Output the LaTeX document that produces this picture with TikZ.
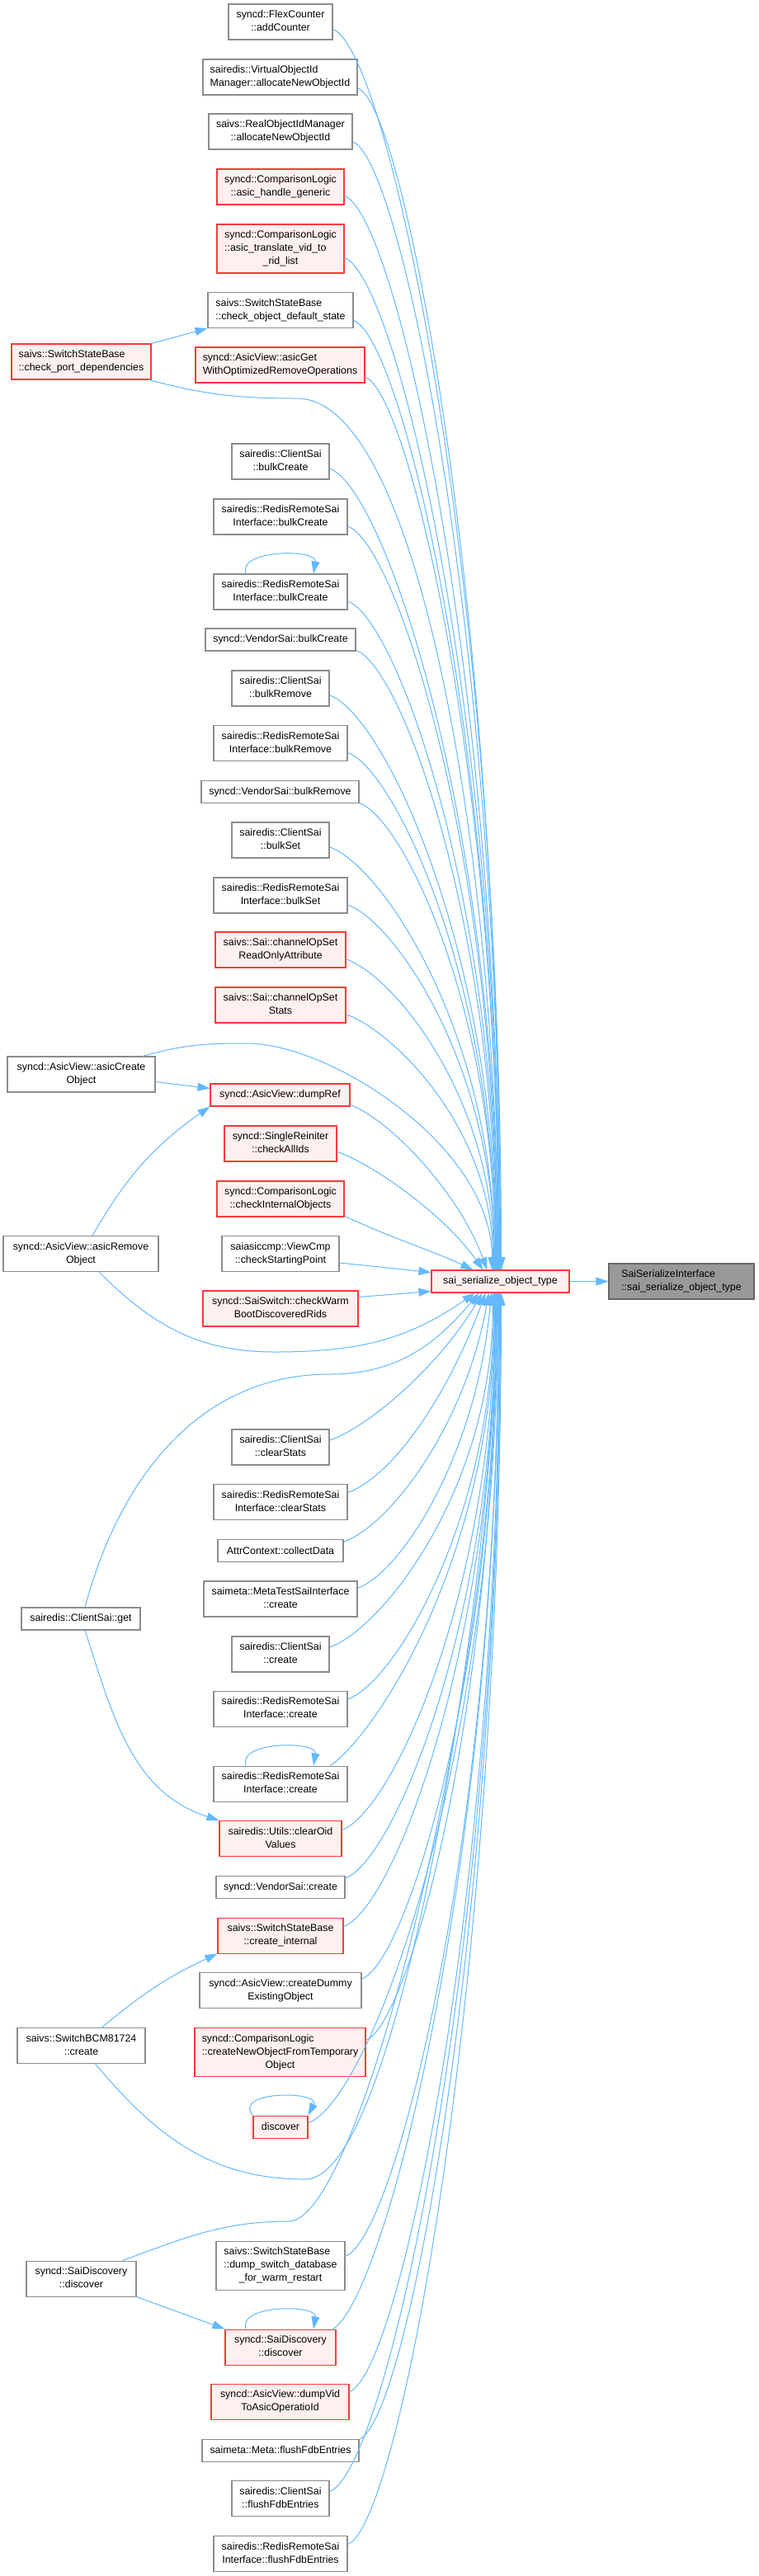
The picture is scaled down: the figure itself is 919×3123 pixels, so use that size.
\documentclass[tikz,border=0pt]{standalone}
\usepackage{fontspec}
\setmainfont{Liberation Sans}
\usetikzlibrary{arrows.meta,calc}
\definecolor{edgeblue}{HTML}{63B8FF}
\definecolor{nodered}{HTML}{FF3838}
\definecolor{nodepink}{HTML}{FFF0F0}
\definecolor{nodegray}{HTML}{8C8C8C}
\definecolor{rootfill}{HTML}{999999}
\definecolor{rootdraw}{HTML}{666666}
\newcommand\twol[2]{\begin{tabular}{@{}l@{}}#1\\\multicolumn{1}{@{}c@{}}{#2}\end{tabular}}
\newcommand\eup[4]{\draw[e] (#1.-8) .. controls +(-20:#3pt) and +(90:#4pt) .. ([xshift=#2pt]main.north west);}
\newcommand\edn[4]{\draw[e] (#1.8) .. controls +(20:#3pt) and +(-90:#4pt) .. ([xshift=#2pt]main.south west);}
\tikzset{
  base/.style={rectangle, draw, line width=1.05pt, inner sep=0pt, text=black,
    font=\fontsize{12.4}{16}\selectfont, align=center},
  wn/.style={base, draw=nodegray, fill=white},
  rn/.style={base, draw=nodered, fill=nodepink},
  gn/.style={base, draw=rootdraw, fill=rootfill},
  h1/.style={minimum height=27pt},
  h2/.style={minimum height=43pt},
  h3/.style={minimum height=59pt},
  e/.style={draw=edgeblue, line width=1pt, -{Triangle[length=15pt,width=10pt]}}
}
\begin{document}
\begin{tikzpicture}[x=1pt,y=1pt]
\fill[white] (0,0) rectangle (919,-3123);
\useasboundingbox (0,0) rectangle (919,-3123);

% middle column
\node[wn,h2,minimum width=126pt] (n1) at (340,-26.5) {\twol{syncd::FlexCounter}{::addCounter}};
\node[wn,h2,minimum width=187pt] (n2) at (339.5,-93.5) {\twol{sairedis::VirtualObjectId}{Manager::allocateNewObjectId}};
\node[wn,h2,minimum width=174pt] (n3) at (340,-159.5) {\twol{saivs::RealObjectIdManager}{::allocateNewObjectId}};
\node[rn,h2,minimum width=154pt] (n4) at (340,-226.5) {\twol{syncd::ComparisonLogic}{::asic\_handle\_generic}};
\node[rn,h3,minimum width=154pt] (n5) at (340,-301.5) {\twol{syncd::ComparisonLogic\\::asic\_translate\_vid\_to}{\_rid\_list}};
\node[wn,h2,minimum width=176pt] (n6) at (340,-376) {\twol{saivs::SwitchStateBase}{::check\_object\_default\_state}};
\node[rn,h2,minimum width=205pt] (n7) at (339.5,-442.5) {\twol{syncd::AsicView::asicGet}{WithOptimizedRemoveOperations}};
\node[wn,h2,minimum width=118pt] (n8) at (340,-559.5) {\twol{sairedis::ClientSai}{::bulkCreate}};
\node[wn,h2,minimum width=162pt] (n9) at (340,-626.5) {\twol{sairedis::RedisRemoteSai}{Interface::bulkCreate}};
\node[wn,h2,minimum width=162pt] (n10) at (340,-717.5) {\twol{sairedis::RedisRemoteSai}{Interface::bulkCreate}};
\node[wn,h1,minimum width=182pt] (n11) at (340,-775.5) {syncd::VendorSai::bulkCreate};
\node[wn,h2,minimum width=118pt] (n12) at (340,-834.5) {\twol{sairedis::ClientSai}{::bulkRemove}};
\node[wn,h2,minimum width=162pt] (n13) at (340,-901) {\twol{sairedis::RedisRemoteSai}{Interface::bulkRemove}};
\node[wn,h1,minimum width=191pt] (n14) at (339.5,-960) {syncd::VendorSai::bulkRemove};
\node[wn,h2,minimum width=118pt] (n15) at (340,-1018.5) {\twol{sairedis::ClientSai}{::bulkSet}};
\node[wn,h2,minimum width=162pt] (n16) at (340,-1085.5) {\twol{sairedis::RedisRemoteSai}{Interface::bulkSet}};
\node[rn,h2,minimum width=158pt] (n17) at (340,-1151.5) {\twol{saivs::Sai::channelOpSet}{ReadOnlyAttribute}};
\node[rn,h2,minimum width=158pt] (n18) at (340,-1218.5) {\twol{saivs::Sai::channelOpSet}{Stats}};
\node[rn,h1,minimum width=169pt] (n19) at (339.5,-1327.5) {syncd::AsicView::dumpRef};
\node[rn,h2,minimum width=136pt] (n20) at (340,-1386.5) {\twol{syncd::SingleReiniter}{::checkAllIds}};
\node[rn,h2,minimum width=154pt] (n21) at (340,-1453.5) {\twol{syncd::ComparisonLogic}{::checkInternalObjects}};
\node[wn,h2,minimum width=142pt] (n22) at (340,-1520) {\twol{saiasiccmp::ViewCmp}{::checkStartingPoint}};
\node[rn,h2,minimum width=188pt] (n23) at (340,-1586.5) {\twol{syncd::SaiSwitch::checkWarm}{BootDiscoveredRids}};
\node[wn,h2,minimum width=118pt] (n24) at (340,-1754.5) {\twol{sairedis::ClientSai}{::clearStats}};
\node[wn,h2,minimum width=162pt] (n25) at (340,-1821) {\twol{sairedis::RedisRemoteSai}{Interface::clearStats}};
\node[wn,h1,minimum width=152pt] (n26) at (340,-1880) {AttrContext::collectData};
\node[wn,h2,minimum width=186pt] (n27) at (340,-1938.5) {\twol{saimeta::MetaTestSaiInterface}{::create}};
\node[wn,h2,minimum width=118pt] (n28) at (340,-2005.5) {\twol{sairedis::ClientSai}{::create}};
\node[wn,h2,minimum width=162pt] (n29) at (340,-2071.5) {\twol{sairedis::RedisRemoteSai}{Interface::create}};
\node[wn,h2,minimum width=162pt] (n30) at (340,-2162.5) {\twol{sairedis::RedisRemoteSai}{Interface::create}};
\node[rn,h2,minimum width=148pt] (n31) at (340,-2229) {\twol{sairedis::Utils::clearOid}{Values}};
\node[wn,h1,minimum width=156pt] (n32) at (340,-2288) {syncd::VendorSai::create};
\node[rn,h2,minimum width=152pt] (n33) at (340,-2346.5) {\twol{saivs::SwitchStateBase}{::create\_internal}};
\node[wn,h2,minimum width=196pt] (n34) at (340,-2413) {\twol{syncd::AsicView::createDummy}{ExistingObject}};
\node[rn,h3,minimum width=207pt] (n35) at (339.5,-2488) {\twol{syncd::ComparisonLogic\\::createNewObjectFromTemporary}{Object}};
\node[rn,h1,minimum width=66pt] (n36) at (340,-2578.5) {discover};
\node[wn,h3,minimum width=156pt] (n37) at (340,-2746.5) {\twol{saivs::SwitchStateBase\\::dump\_switch\_database}{\_for\_warm\_restart}};
\node[rn,h2,minimum width=134pt] (n38) at (340,-2845.5) {\twol{syncd::SaiDiscovery}{::discover}};
\node[rn,h2,minimum width=167pt] (n39) at (339.5,-2911.5) {\twol{syncd::AsicView::dumpVid}{ToAsicOperatioId}};
\node[wn,h1,minimum width=190pt] (n40) at (340,-2970.5) {saimeta::Meta::flushFdbEntries};
\node[wn,h2,minimum width=118pt] (n41) at (340,-3029) {\twol{sairedis::ClientSai}{::flushFdbEntries}};
\node[wn,h2,minimum width=162pt] (n42) at (340,-3096) {\twol{sairedis::RedisRemoteSai}{Interface::flushFdbEntries}};

% left column
\node[rn,h2,minimum width=169pt] (L1) at (98.5,-438.5) {\twol{saivs::SwitchStateBase}{::check\_port\_dependencies}};
\node[wn,h2,minimum width=179pt] (L2) at (98.5,-1302.5) {\twol{syncd::AsicView::asicCreate}{Object}};
\node[wn,h2,minimum width=188pt] (L3) at (98,-1520) {\twol{syncd::AsicView::asicRemove}{Object}};
\node[wn,h1,minimum width=144pt] (L4) at (98,-1962.5) {sairedis::ClientSai::get};
\node[wn,h2,minimum width=155pt] (L5) at (98.5,-2480) {\twol{saivs::SwitchBCM81724}{::create}};
\node[wn,h2,minimum width=133pt] (L6) at (98.5,-2762.5) {\twol{syncd::SaiDiscovery}{::discover}};

% main and root
\node[rn,h1,minimum width=167pt] (main) at (606.5,-1553.5) {sai\_serialize\_object\_type};
\node[gn,h2,minimum width=176pt] (root) at (826,-1553.5) {\twol{SaiSerializeInterface}{::sai\_serialize\_object\_type}};

% edges from upper nodes
\eup{n1}{85}{73}{828}
\eup{n2}{84}{62}{788}
\eup{n3}{84}{64}{752}
\eup{n4}{83}{67}{717}
\eup{n5}{83}{67}{675}
\eup{n6}{82}{63}{634}
\eup{n7}{82}{57}{596}
\eup{n8}{81}{72}{535}
\eup{n9}{80}{64}{496}
\eup{n10}{80}{64}{446}
\eup{n11}{79}{60}{414}
\eup{n12}{79}{71}{383}
\eup{n13}{78}{62}{345}
\eup{n14}{78}{58}{312}
\eup{n15}{77}{70}{282}
\eup{n16}{77}{62}{244}
\eup{n17}{76}{63}{207}
\eup{n18}{75}{62}{170}
\draw[e] (n19.-8) .. controls +(-20:50pt) and +(110:100pt) .. ([xshift=68pt]main.north west);
\draw[e] (n20.-8) .. controls +(-20:50pt) and +(125:80pt) .. ([xshift=63pt]main.north west);
\draw[e] (n21.-15) .. controls +(-25:67pt) and +(155:60pt) .. ([xshift=51pt]main.north west);
\draw[e] ([yshift=-11pt]n22.east) -- ([yshift=11pt]main.west);
\draw[e] ([yshift=14pt]n23.east) -- ([yshift=-12pt]main.west);

% edges from lower nodes
\draw[e] (n24.8) .. controls +(20:60pt) and +(-120:90pt) .. ([xshift=62pt]main.south west);
\draw[e] (n25.8) .. controls +(20:59pt) and +(-110:130pt) .. ([xshift=66pt]main.south west);
\draw[e] (n26.8) .. controls +(20:62pt) and +(-100:160pt) .. ([xshift=70pt]main.south west);
\draw[e] (n27.8) .. controls +(20:57pt) and +(-95:195pt) .. ([xshift=73pt]main.south west);
\edn{n28}{75}{69}{236}
\edn{n29}{76}{62}{271}
\draw[e] ([xshift=-21pt]n30.north east) .. controls +(35:70pt) and +(-90:315pt) .. ([xshift=77pt]main.south west);
\edn{n31}{77}{65}{359}
\edn{n32}{78}{64}{390}
\edn{n33}{78}{65}{423}
\edn{n34}{79}{58}{458}
\edn{n35}{79}{56}{498}
\edn{n36}{81}{82}{554}
\edn{n37}{82}{66}{642}
\draw[e] ([xshift=-4pt]n38.north east) .. controls +(30:72pt) and +(-90:690pt) .. ([xshift=82pt]main.south west);
\edn{n39}{83}{65}{733}
\edn{n40}{84}{62}{764}
\edn{n41}{84}{74}{800}
\edn{n42}{85}{67}{835}

% left column edges
\draw[e] (L1.north east) -- (n6.south west);
\draw[e] (L1.-15) .. controls +(-15:70pt) and +(180:70pt) .. (360,-483) .. controls +(0:150pt) and +(90:480pt) .. ([xshift=81pt]main.north west);
\draw[e] ([xshift=-16pt]L2.north east) .. controls +(15:55pt) and +(180:55pt) .. (300,-1265) .. controls +(0:100pt) and +(90:150pt) .. ([xshift=74pt]main.north west);
\draw[e] ([yshift=-9pt]L2.east) -- ([yshift=8pt]n19.west);
\draw[e] ([xshift=14pt]L3.north) .. controls +(60:83pt) and +(-145:83pt) .. (n19.south west);
\draw[e] ([xshift=22pt]L3.south) .. controls +(-45:92pt) and +(180:92pt) .. (333,-1639) .. controls +(0:100pt) and +(-145:100pt) .. ([xshift=53pt]main.south west);
\draw[e] ([xshift=5pt]L4.north) .. controls +(75:160pt) and +(180:160pt) .. (400,-1666) .. controls +(0:81pt) and +(-130:81pt) .. ([xshift=58pt]main.south west);
\draw[e] ([xshift=5pt]L4.south) .. controls +(-72:111pt) and +(162:111pt) .. (n31.north west);
\draw[e] ([xshift=25pt]L5.north) .. controls +(40:65pt) and +(-155:65pt) .. (n33.south west);
\draw[e] ([xshift=17pt]L5.south) .. controls +(-50:114pt) and +(180:114pt) .. (370,-2642) .. controls +(0:120pt) and +(-90:300pt) .. ([xshift=80pt]main.south west);
\draw[e] ([xshift=50pt]L6.north) .. controls +(20:80pt) and +(180:80pt) .. (350,-2693) .. controls +(0:90pt) and +(-90:450pt) .. ([xshift=81pt]main.south west);
\draw[e] (L6.south east) -- (n38.north west);

% self loops
\draw[e] ([xshift=-42pt]n10.north) .. controls +(-10,30) and +(5,30) .. ([xshift=40pt]n10.north);
\draw[e] ([xshift=-42pt]n30.north) .. controls +(-10,30) and +(5,30) .. ([xshift=40pt]n30.north);
\draw[e] ([xshift=-42pt]n38.north) .. controls +(-10,30) and +(5,30) .. ([xshift=40pt]n38.north);
\draw[e] (n36.north west) .. controls +(-25,30) and +(15,30) .. (n36.north east);

% main to root
\draw[e] (main.east) -- (root.west);
\end{tikzpicture}
\end{document}
